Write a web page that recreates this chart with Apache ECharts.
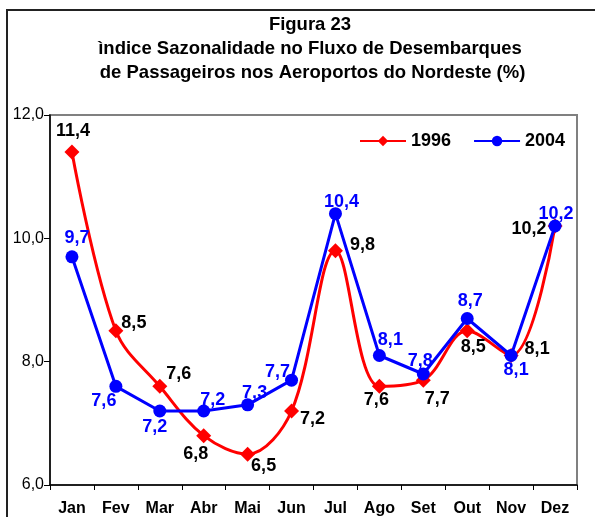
<!DOCTYPE html>
<html>
<head>
<meta charset="utf-8">
<script src="https://cdn.jsdelivr.net/npm/echarts@6/dist/echarts.min.js"></script>
<style>
html,body{margin:0;padding:0;background:#fff;}
#chart{width:595px;height:517px;}
</style>
</head>
<body>
<div id="chart"></div>
<script>
const titleLines = ['Figura 23', 'ìndice Sazonalidade no Fluxo de Desembarques', ' de Passageiros nos Aeroportos do Nordeste (%)'];
const months = ['Jan','Fev','Mar','Abr','Mai','Jun','Jul','Ago','Set','Out','Nov','Dez'];
const seriesNames = ['1996', '2004'];
const values1996 = [11.4, 8.5, 7.6, 6.8, 6.5, 7.2, 9.8, 7.6, 7.7, 8.5, 8.1, 10.2];
const values2004 = [9.7, 7.6, 7.2, 7.2, 7.3, 7.7, 10.4, 8.1, 7.8, 8.7, 8.1, 10.2];
const yTicks = [6, 8, 10, 12];

// label placement (styling only)
const off1996 = [[1,-21],[18,-8],[19,-12],[-8,18],[16,12],[21,8],[27,-6],[-3,14],[14,19],[6,16],[26,-6],[-26,3]];
const off2004 = [[5,-19],[-12,15],[-5,16],[9,-11],[7,-12],[-14,-8],[6,-12],[11,-15],[-3,-13],[3,-17],[5,15],[1,-12]];

const fmt = v => v.toFixed(1).replace('.', ',');
const FONT = 'Liberation Sans, Arial, sans-serif';

function build(values, offs) {
  return values.map((v, i) => ({
    value: v,
    label: { offset: offs[i] }
  }));
}

const chart = echarts.init(document.getElementById('chart'), null, {renderer: 'canvas'});
chart.setOption({
  animation: false,
  backgroundColor: '#fff',
  graphic: [
    { type: 'rect', shape: { x: 7, y: 10, width: 620, height: 540 }, style: { fill: 'none', stroke: '#222', lineWidth: 2 }, z: 0 }
  ].concat(titleLines.map((t, i) => ({
    type: 'text',
    x: 310, y: 25 + i * 24,
    style: { text: t, fill: '#000', font: 'bold 18.5px ' + FONT, align: 'center', verticalAlign: 'middle' }
  }))),
  legend: {
    top: 127, left: 354,
    itemWidth: 46, itemHeight: 13,
    itemGap: 22,
    textStyle: { fontFamily: FONT, fontWeight: 'bold', fontSize: 18, color: '#000' },
    data: seriesNames
  },
  grid: { left: 50, right: 18, top: 115, bottom: 31, show: true, borderColor: '#808080', borderWidth: 2 },
  xAxis: {
    type: 'category',
    data: months,
    boundaryGap: true,
    axisLine: { lineStyle: { color: '#000', width: 1.5 } },
    axisTick: { show: true, alignWithLabel: false, length: 5, lineStyle: { color: '#000' } },
    axisLabel: { fontFamily: FONT, fontWeight: 'bold', fontSize: 16, color: '#000', margin: 16 }
  },
  yAxis: {
    type: 'value',
    min: yTicks[0], max: yTicks[yTicks.length - 1], interval: 2,
    axisLine: { show: true, lineStyle: { color: '#000', width: 1.5 } },
    axisTick: { show: true, length: 6, lineStyle: { color: '#000' } },
    splitLine: { show: false },
    axisLabel: { fontFamily: FONT, fontSize: 16, color: '#000', margin: 6, formatter: fmt }
  },
  series: [
    {
      name: seriesNames[0], type: 'line', smooth: 0.35,
      data: build(values1996, off1996),
      symbol: 'diamond', symbolSize: 15,
      lineStyle: { color: '#ff0000', width: 3 },
      itemStyle: { color: '#ff0000' },
      label: { show: true, position: 'inside', formatter: p => fmt(p.value), fontFamily: FONT, fontWeight: 'bold', fontSize: 18, color: '#000' },
      z: 3
    },
    {
      name: seriesNames[1], type: 'line', smooth: false,
      data: build(values2004, off2004),
      symbol: 'circle', symbolSize: 13,
      lineStyle: { color: '#0000ff', width: 3 },
      itemStyle: { color: '#0000ff' },
      label: { show: true, position: 'inside', formatter: p => fmt(p.value), fontFamily: FONT, fontWeight: 'bold', fontSize: 18, color: '#0000ff' },
      z: 4
    }
  ]
});
</script>
</body>
</html>
